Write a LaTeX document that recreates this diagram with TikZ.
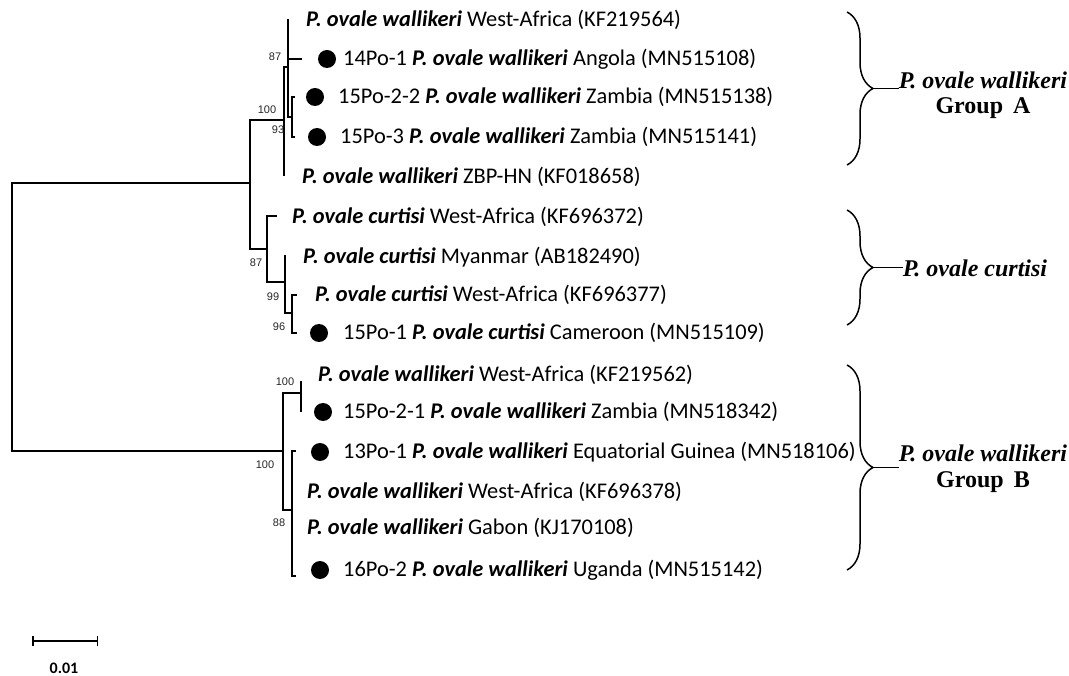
\documentclass[tikz,border=0pt]{standalone}
\usepackage{fontspec}
\setmainfont{Carlito}
\newfontfamily\bootfont{Liberation Sans}
\newfontfamily\cladefont{Liberation Serif}
\usepackage{tikz}
\usetikzlibrary{decorations.pathreplacing}
\usetikzlibrary{arrows.meta}
\newcommand{\species}[1]{\textbf{\textit{#1}}}
\tikzset{
	branch/.style={line width=1.5pt},
	taxon/.style={anchor=west,inner sep=0pt,font=\fontsize{22.4}{24}\selectfont},
	boot/.style={inner sep=0pt,text=black!85,font=\bootfont\fontsize{11}{12}\selectfont},
	isolate/.style={circle,fill,inner sep=0pt,minimum size=18pt},
	clade/.style={inner sep=0pt,font=\cladefont\bfseries\fontsize{24}{28}\selectfont},
	cladebrace/.style={line width=1.5pt,decorate,decoration={brace,amplitude=26pt}}
}

\begin{document}
\begin{tikzpicture}[x=1pt,y=-1pt]
	\useasboundingbox (0,0) rectangle (1069,676);
	\coordinate (root) at (12,317);
	\coordinate (nU) at (250,183);
	\coordinate (nA) at (284,120);
	\coordinate (nA87) at (288,67);
	\coordinate (nA93) at (292,117);
	\coordinate (nC) at (267,249);
	\coordinate (nC99) at (285,282);
	\coordinate (nC96) at (292,313);
	\coordinate (nB) at (283,451);
	\coordinate (nB100) at (301,393);
	\coordinate (nB88) at (292,510);
	\coordinate (t1) at (288,19);
	\coordinate (t2) at (302,59);
	\coordinate (t3) at (295,97);
	\coordinate (t4) at (295,137);
	\coordinate (t5) at (284,176);
	\coordinate (t6) at (277,216);
	\coordinate (t7) at (285,255);
	\coordinate (t8) at (297,295);
	\coordinate (t9) at (297,333);
	\coordinate (t10) at (301,381);
	\coordinate (t11) at (301,412);
	\coordinate (t12) at (296,451);
	\coordinate (t15) at (296,576);
	\draw[branch] (root) |- (nU) (root) |- (nB);
	\draw[branch] (nU) |- (nA) (nU) |- (nC);
	\draw[branch] (nA) |- (nA87) (nA) |- (t5);
	\draw[branch] (nA87) |- (t1) (nA87) |- (t2) (nA87) |- (nA93);
	\draw[branch] (nA93) |- (t3) (nA93) |- (t4);
	\draw[branch] (nC) |- (t6) (nC) |- (nC99);
	\draw[branch] (nC99) |- (t7) (nC99) |- (nC96);
	\draw[branch] (nC96) |- (t8) (nC96) |- (t9);
	\draw[branch] (nB) |- (nB100) (nB) |- (nB88);
	\draw[branch] (nB100) |- (t10) (nB100) |- (t11);
	\draw[branch] (nB88) |- (t12) (nB88) |- (t15);

	\node[boot] (bA87) at (275,57) {87};
	\node[boot] (bA100) at (267,110) {100};
	\node[boot] (bA93) at (278,130) {93};
	\node[boot] (bC87) at (256,263) {87};
	\node[boot] (bC99) at (273,297) {99};
	\node[boot] (bC96) at (279,327) {96};
	\node[boot] (bB100a) at (285,382) {100};
	\node[boot] (bB100) at (265,465) {100};
	\node[boot] (bB88) at (279,523) {88};

	\node[taxon] (l1) at (306,20) {\species{P. ovale wallikeri} West-Africa (KF219564)};
	\node[isolate] (d2) at (327,59) {};
	\node[taxon] (l2) at (343,59) {14Po-1 \species{P. ovale wallikeri} Angola (MN515108)};
	\node[isolate] (d3) at (315,97) {};
	\node[taxon] (l3) at (338,97) {15Po-2-2 \species{P. ovale wallikeri} Zambia (MN515138)};
	\node[isolate] (d4) at (317,137) {};
	\node[taxon] (l4) at (340,137) {15Po-3 \species{P. ovale wallikeri} Zambia (MN515141)};
	\node[taxon] (l5) at (302,177) {\species{P. ovale wallikeri} ZBP-HN (KF018658)};
	\node[taxon] (l6) at (292,217) {\species{P. ovale curtisi} West-Africa (KF696372)};
	\node[taxon] (l7) at (303,257) {\species{P. ovale curtisi} Myanmar (AB182490)};
	\node[taxon] (l8) at (315,295) {\species{P. ovale curtisi} West-Africa (KF696377)};
	\node[isolate] (d9) at (319,333) {};
	\node[taxon] (l9) at (343,333) {15Po-1 \species{P. ovale curtisi} Cameroon (MN515109)};
	\node[taxon] (l10) at (318,375) {\species{P. ovale wallikeri} West-Africa (KF219562)};
	\node[isolate] (d11) at (323,412) {};
	\node[taxon] (l11) at (343,412) {15Po-2-1 \species{P. ovale wallikeri} Zambia (MN518342)};
	\node[isolate] (d12) at (320,452) {};
	\node[taxon] (l12) at (343,452) {13Po-1 \species{P. ovale wallikeri} Equatorial Guinea (MN518106)};
	\node[taxon] (l13) at (307,492) {\species{P. ovale wallikeri} West-Africa (KF696378)};
	\node[taxon] (l14) at (307,528) {\species{P. ovale wallikeri} Gabon (KJ170108)};
	\node[isolate] (d15) at (320,570) {};
	\node[taxon] (l15) at (343,570) {16Po-2 \species{P. ovale wallikeri} Uganda (MN515142)};

	\draw[cladebrace] (847,12) -- coordinate[midway,xshift=26pt] (tipA) (847,165);
	\draw[cladebrace] (847,210) -- coordinate[midway,xshift=26pt] (tipC) (847,325);
	\draw[cladebrace] (847,365) -- coordinate[midway,xshift=26pt] (tipB) (847,570);
	\node[clade] (cA) at (983,80) {\textit{P. ovale wallikeri}};
	\node[clade] (gA) at (983,108) {Group\, A};
	\node[clade] (cC) at (975,268) {\textit{P. ovale curtisi}};
	\node[clade] (cB) at (983,453) {\textit{P. ovale wallikeri}};
	\node[clade] (gB) at (983,482) {Group\, B};
	\draw[branch] (tipA) -- (tipA -| cA.west);
	\draw[branch] (tipC) -- (tipC -| cC.west);
	\draw[branch] (tipB) -- (tipB -| cB.west);

	\coordinate (s0) at (32,641);
	\coordinate (s1) at (98,641);
	\draw[branch,{Bar[width=10pt]}-{Bar[width=10pt]}] (s0) -- (s1);
	\node[inner sep=0pt,font=\bfseries\fontsize{16}{18}\selectfont] (scale) at (64,668) {0.01};
\end{tikzpicture}
\end{document}
